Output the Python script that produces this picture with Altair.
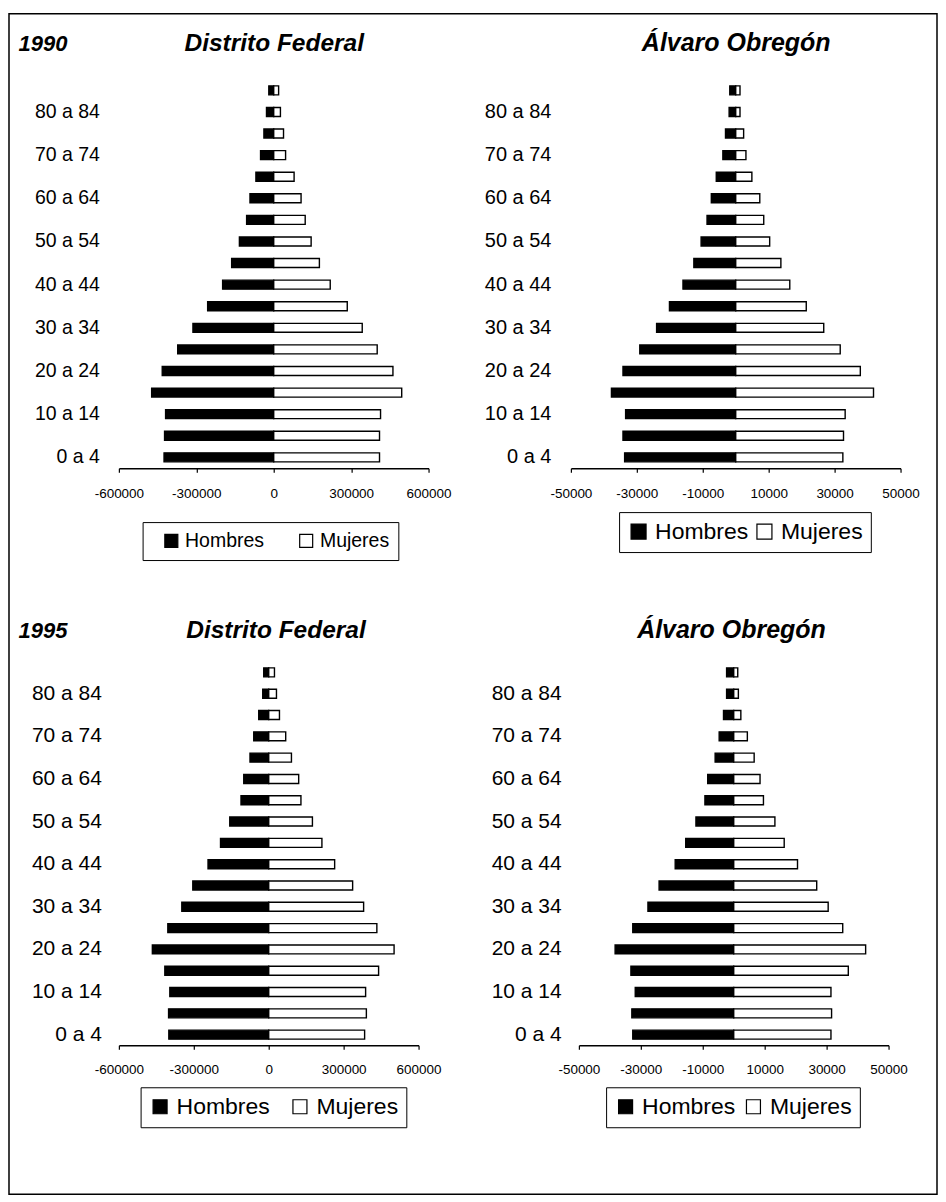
import altair as alt
import pandas as pd

# ---------------- data ----------------
ages = ["0 a 4", "5 a 9", "10 a 14", "15 a 19", "20 a 24", "25 a 29", "30 a 34",
        "35 a 39", "40 a 44", "45 a 49", "50 a 54", "55 a 59", "60 a 64",
        "65 a 69", "70 a 74", "75 a 79", "80 a 84", "85 y más"]
shown_ages = ["0 a 4", "10 a 14", "20 a 24", "30 a 34", "40 a 44",
              "50 a 54", "60 a 64", "70 a 74", "80 a 84"]
sexes = ["Hombres", "Mujeres"]

# Distrito Federal 1990
df90_hombres = [425000, 423000, 419000, 473000, 432000, 372000, 313000, 256000, 198000,
                163000, 133000, 105000, 92000, 69000, 51000, 38000, 28000, 19000]
df90_mujeres = [410000, 410000, 414000, 496000, 462000, 401000, 343000, 285000, 219000,
                177000, 145000, 122000, 106000, 79000, 46000, 38000, 26000, 19000]
# Álvaro Obregón 1990
ao90_hombres = [33700, 34200, 33400, 37700, 34200, 29100, 24000, 20100, 16000,
                12700, 10500, 8700, 7400, 5900, 3900, 3100, 2000, 1800]
ao90_mujeres = [32500, 32700, 33200, 41800, 37800, 31700, 26700, 21400, 16400,
                13700, 10300, 8500, 7300, 4900, 3100, 2400, 1300, 1300]
# Distrito Federal 1995
df95_hombres = [400000, 401000, 396000, 416000, 466000, 404000, 348000, 304000, 243000,
                193000, 156000, 111000, 100000, 75000, 60000, 40000, 24000, 20000]
df95_mujeres = [384000, 391000, 388000, 440000, 502000, 433000, 380000, 336000, 264000,
                213000, 175000, 129000, 120000, 91000, 68000, 43000, 31000, 23000]
# Álvaro Obregón 1995
ao95_hombres = [32600, 32900, 31800, 33200, 38300, 32600, 27700, 24100, 18900,
                15500, 12200, 9300, 8400, 6000, 4700, 3300, 2300, 2300]
ao95_mujeres = [31400, 31600, 31400, 37000, 42600, 35200, 30500, 26800, 20600,
                16300, 13300, 9600, 8500, 6600, 4400, 2300, 1500, 1300]

df_ticks = [-600000, -300000, 0, 300000, 600000]
ao_ticks = [-50000, -30000, -10000, 10000, 30000, 50000]

FONT = "Liberation Sans"


def panel(men, women, ticks, w, xrange, h, lab_size, lab_pad, tick_pad,
          title, title_x, title_y, title_size, legend, year=None):
    data = pd.DataFrame({
        "Edad": ages + ages,
        "Sexo": [sexes[0]] * len(ages) + [sexes[1]] * len(ages),
        "Poblacion": [-v for v in men] + list(women),
    })
    yaxis = dict(values=shown_ages, labelFontSize=lab_size, labelFont=FONT,
                 labelColor="black", labelPadding=lab_pad, ticks=False,
                 domain=False, grid=False)
    if year is not None:
        yaxis.update(title=year[0], titleX=year[1], titleY=year[2], titleAngle=0,
                     titleAlign="left", titleBaseline="alphabetic", titleFont=FONT,
                     titleFontSize=year[3], titleFontWeight="bold",
                     titleFontStyle="italic", titleColor="black")
    else:
        yaxis["title"] = None
    xaxis = alt.Axis(values=ticks, labelExpr="toString(datum.value)",
                     labelFontSize=13.5, labelFont=FONT, labelColor="black",
                     labelBaseline="middle", labelPadding=tick_pad,
                     labelOverlap=False, labelFlush=False, labelBound=False,
                     tickSize=4, tickColor="black", tickWidth=1.2,
                     domainColor="black", domainWidth=1.5, grid=False,
                     title=title, titleX=title_x, titleY=title_y,
                     titleAlign="center", titleBaseline="alphabetic",
                     titleFont=FONT, titleFontSize=title_size,
                     titleFontWeight="bold", titleFontStyle="italic",
                     titleColor="black")
    return alt.Chart(data).mark_bar(size=9, stroke="black", strokeWidth=1.4).encode(
        y=alt.Y("Edad:N", sort=list(reversed(ages)),
                scale=alt.Scale(paddingInner=0, paddingOuter=0),
                axis=alt.Axis(**yaxis)),
        x=alt.X("Poblacion:Q", stack=None,
                scale=alt.Scale(domain=[ticks[0], ticks[-1]], nice=False,
                                range=xrange),
                axis=xaxis),
        color=alt.Color("Sexo:N",
                        scale=alt.Scale(domain=sexes, range=["#000000", "#ffffff"]),
                        legend=legend),
    ).properties(width=w, height=h)


def leg(x, y, size, sym, pad, offset, colpad, lead=None):
    kw = dict(orient="none", legendX=x, legendY=y, direction="horizontal",
              symbolType="square", symbolSize=sym * sym, symbolStrokeColor="black",
              symbolStrokeWidth=1.2, labelFont=FONT, labelFontSize=size,
              labelColor="black", labelOffset=offset, columnPadding=colpad,
              gridAlign="none", padding=pad, strokeColor="black")
    if lead is not None:
        kw.update(title="\u00a0", titleOrient="left", titleFontSize=1,
                  titlePadding=lead)
    else:
        kw["title"] = None
    return alt.Legend(**kw)


# top-left: plot x 118..428 ; top-right: 570.75..900.75
tl = panel(df90_hombres, df90_mujeres, df_ticks, 310, [0, 310], 389, 19.5, 19.5, 21,
           "Distrito Federal", 155, -418, 24.5,
           leg(23.75, 443, 19.5, 13, 9, 4, 32, lead=10),
           year=("1990", -101, -29, 22))
tr = panel(ao90_hombres, ao90_mujeres, ao_ticks, 330, [0, 330], 389, 20, 20, 21,
           "Álvaro Obregón", 165, -418, 25,
           leg(48.25, 433, 23, 15, 8, 5, 4))
# bottom-left: axis 118..418 ; bottom-right axis 578.75..888.75
bl = panel(df95_hombres, df95_mujeres, df_ticks, 318, [0, 300], 384, 21, 17.5, 20,
           "Distrito Federal", 156.75, -408.3, 24.5,
           leg(21.75, 426, 23, 14, 8, 5, 18),
           year=("1995", -101, -24.3, 22))
br = panel(ao95_hombres, ao95_mujeres, ao_ticks, 318, [8, 318], 384, 21, 9.75, 20,
           "Álvaro Obregón", 160.25, -408.3, 25,
           leg(35.25, 426, 23, 14, 8, 5, 6))

frame = alt.Chart(pd.DataFrame({"k": [0]})).mark_rect(
    fill="transparent", stroke="black", strokeWidth=1.5
).encode(x=alt.value(-110), x2=alt.value(819),
         y=alt.value(-66), y2=alt.value(1116))

tl_full = alt.layer(tl, frame).properties(width=310, height=389)

chart = alt.concat(
    tl_full, tr, bl, br, columns=2, bounds="flush",
    spacing={"row": 193.8, "column": 134.5}
).resolve_scale(
    color="independent", x="independent", y="independent"
).resolve_legend(color="independent").properties(
    padding={"left": 0, "top": 4, "right": 0, "bottom": 0}, background="white"
).configure(font=FONT).configure_view(stroke="transparent", strokeWidth=0)

chart.save("out.html", embed_options={"renderer": "svg", "actions": False})
